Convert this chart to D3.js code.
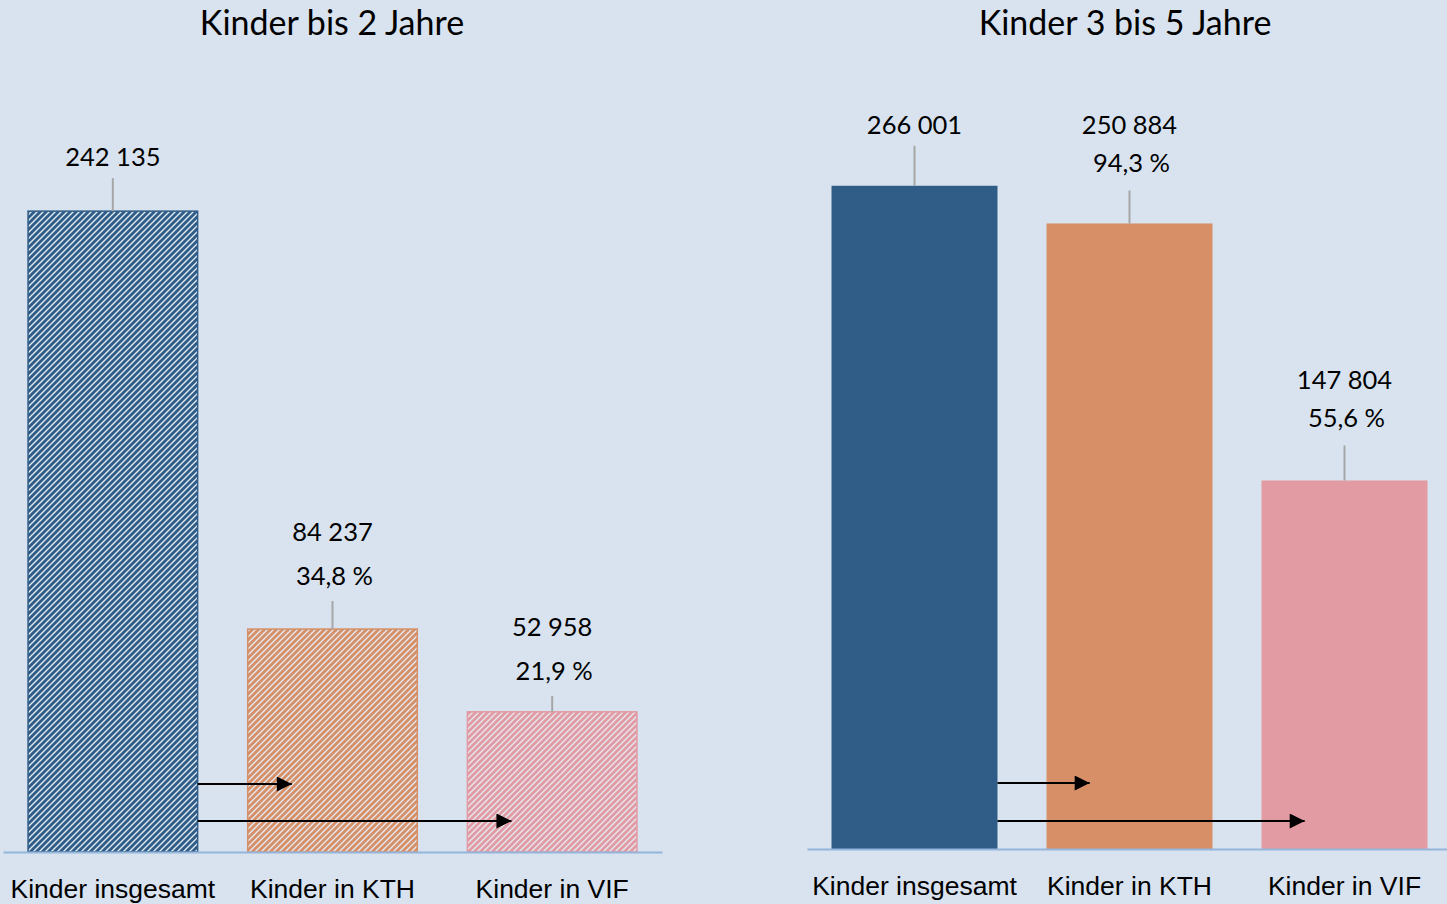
<!DOCTYPE html>
<meta charset="utf-8">
<style>
  body { margin: 0; background: #d8e3ef; }
  svg { display: block; font-family: Lato, "Open Sans", sans-serif; }
  .axis .domain { stroke: #94b6dc; stroke-width: 2; }
  .axis text { fill: #000; font-size: 26.5px; }
  .title { font-size: 34px; fill: #000; }
  .lbl { font-size: 25.5px; fill: #000; }
  .leader { stroke: #a6a6a6; stroke-width: 2; }
  .arrow { stroke: #000; stroke-width: 1.8; }
</style>
<body>
<div id="chart"></div>
<script src="https://d3js.org/d3.v7.min.js"></script>
<script>
// data
const categories = ["Kinder insgesamt", "Kinder in KTH", "Kinder in VIF"];
const titles = ["Kinder bis 2 Jahre", "Kinder 3 bis 5 Jahre"];
const valuesU3 = [242135, 84237, 52958];
const sharesU3 = [null, 34.8, 21.9];
const values3to5 = [266001, 250884, 147804];
const shares3to5 = [null, 94.3, 55.6];
const colors = ["#305d88", "#d68f66", "#e29aa3"];

var W = 1447, H = 904;
var de = d3.formatLocale({ decimal: ",", thousands: " ", grouping: [3], currency: ["", " €"] });
var fmtNum = de.format(",d"), fmtPct = de.format(",.1f");

var svg = d3.select("#chart").append("svg")
    .attr("width", W).attr("height", H);

// hatch patterns for the left panel
var defs = svg.append("defs");
colors.forEach(function(c, i) {
  var p = defs.append("pattern")
      .attr("id", "hatch" + i)
      .attr("patternUnits", "userSpaceOnUse")
      .attr("width", 6).attr("height", 6);
  p.append("rect").attr("width", 6).attr("height", 6).attr("fill", "#e3ebf4");
  p.append("path")
      .attr("d", "M-1,1 l2,-2 M0,6 l6,-6 M5,7 l2,-2")
      .attr("stroke", c).attr("stroke-width", 2.9);
});
defs.append("marker")
    .attr("id", "head")
    .attr("viewBox", "0 0 10 10")
    .attr("refX", 10).attr("refY", 5)
    .attr("markerUnits", "userSpaceOnUse")
    .attr("markerWidth", 17).attr("markerHeight", 15)
    .attr("orient", "auto")
  .append("path").attr("d", "M0,0 L10,5 L0,10 Z").attr("fill", "#000");

var panels = [
  { title: titles[0], values: valuesU3, shares: sharesU3, hatch: true,
    xr: [3, 662], base: 852, top: 58, titleX: 332, titleY: 21,
    leader: [33, 28, 16], pctGap: 26, lineGap: 44, arrowY: [68, 31] },
  { title: titles[1], values: values3to5, shares: shares3to5, hatch: false,
    xr: [807, 1452], base: 849, top: 101, titleX: 1125, titleY: 21,
    leader: [40, 33, 35], pctGap: 28, lineGap: 38, arrowY: [66, 28] }
];

panels.forEach(function(p) {
  var g = svg.append("g");

  var x = d3.scaleBand().domain(categories).range(p.xr).paddingInner(0.228).paddingOuter(0.114);
  var y = d3.scaleLinear().domain([0, 300000]).range([p.base, p.top]);

  g.append("text").attr("class", "title")
      .attr("x", p.titleX).attr("y", p.titleY)
      .attr("text-anchor", "middle").attr("dominant-baseline", "central")
      .text(p.title);

  g.selectAll(".bar").data(p.values).join("rect")
      .attr("class", "bar")
      .attr("x", function(d, i) { return x(categories[i]); })
      .attr("width", x.bandwidth())
      .attr("y", function(d) { return y(d); })
      .attr("height", function(d) { return y(0) - y(d); })
      .attr("fill", function(d, i) { return p.hatch ? "url(#hatch" + i + ")" : colors[i]; })
      .attr("stroke", function(d, i) { return p.hatch ? colors[i] : "none"; })
      .attr("stroke-width", 1.5);

  g.append("g").attr("class", "axis")
      .attr("transform", "translate(0," + p.base + ")")
      .call(d3.axisBottom(x).tickSize(0).tickSizeOuter(0).tickPadding(27))
      .call(function(a) { a.selectAll(".tick line").remove(); });

  // labels with leader lines
  p.values.forEach(function(v, i) {
    var cx = x(categories[i]) + x.bandwidth() / 2;
    var top = y(v), lt = top - p.leader[i];
    g.append("line").attr("class", "leader")
        .attr("x1", cx).attr("x2", cx).attr("y1", top).attr("y2", lt);
    var vy = lt - 22;
    if (p.shares[i] != null) {
      var py = lt - p.pctGap;
      g.append("text").attr("class", "lbl")
          .attr("x", cx + 2).attr("y", py)
          .attr("text-anchor", "middle").attr("dominant-baseline", "central")
          .text(fmtPct(p.shares[i]) + " %");
      vy = py - p.lineGap;
    }
    g.append("text").attr("class", "lbl")
        .attr("x", cx).attr("y", vy)
        .attr("text-anchor", "middle").attr("dominant-baseline", "central")
        .text(fmtNum(v));
  });

  // arrows from total to the two sub-groups
  var x0 = x(categories[0]) + x.bandwidth();
  [1, 2].forEach(function(k, j) {
    g.append("line").attr("class", "arrow")
        .attr("x1", x0).attr("x2", x(categories[k]) + x.bandwidth() * 0.26)
        .attr("y1", p.base - p.arrowY[j]).attr("y2", p.base - p.arrowY[j])
        .attr("marker-end", "url(#head)");
  });
});
</script>
</body>
